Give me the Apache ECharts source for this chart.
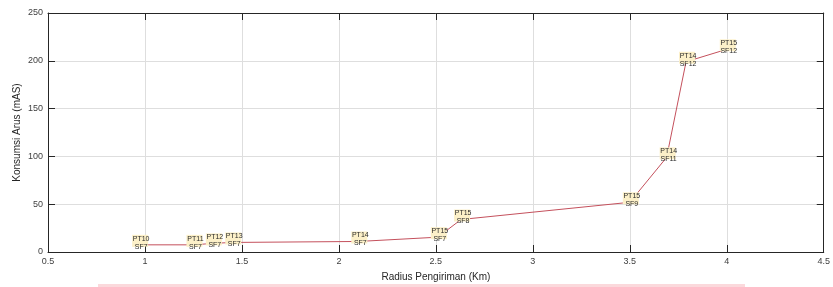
<!DOCTYPE html>
<html>
<head>
<meta charset="utf-8">
<script src="https://cdn.jsdelivr.net/npm/echarts@6/dist/echarts.min.js"></script>
<style>
  html, body { margin: 0; padding: 0; background: #fff; }
  #chart { width: 833px; height: 287px; }
</style>
</head>
<body>
<div id="chart"></div>
<script>
// radius (km) and current consumption (mAS)
const radius = [0.97, 1.25, 1.35, 1.45, 2.1, 2.51, 2.63, 3.5, 3.69, 3.79, 4.0];
const arus = [7.5, 7.5, 9, 10, 11, 15.5, 34, 52, 99, 199, 212];
const ptLabels = ['PT10', 'PT11', 'PT12', 'PT13', 'PT14', 'PT15', 'PT15', 'PT15', 'PT14', 'PT14', 'PT15'];
const sfLabels = ['SF7', 'SF7', 'SF7', 'SF7', 'SF7', 'SF7', 'SF8', 'SF9', 'SF11', 'SF12', 'SF12'];

const font = 'Liberation Sans';
const axisColor = '#262626';

const points = radius.map((r, i) => ({
  value: [r, arus[i]],
  pt: ptLabels[i],
  sf: sfLabels[i]
}));

const chart = echarts.init(document.getElementById('chart'));
chart.setOption({
  animation: false,
  grid: { left: 48, right: 5, top: 13, bottom: 35 },
  xAxis: [{
    type: 'value', min: 0.5, max: 4.5, interval: 0.5,
    name: 'Radius Pengiriman (Km)', nameLocation: 'middle', nameGap: 20,
    nameTextStyle: { fontFamily: font, fontSize: 10, color: '#262626' },
    axisLine: { onZero: false, lineStyle: { color: axisColor, width: 1 } },
    axisTick: { inside: true, length: 7, lineStyle: { color: axisColor } },
    axisLabel: { fontFamily: font, fontSize: 9, color: '#404040', margin: 5 },
    splitLine: { show: true, lineStyle: { color: '#dedede', width: 1 } }
  }, {
    type: 'value', min: 0.5, max: 4.5, interval: 0.5, position: 'top',
    axisLine: { onZero: false, lineStyle: { color: axisColor, width: 1 } },
    axisTick: { inside: true, length: 7, lineStyle: { color: axisColor } },
    axisLabel: { show: false },
    splitLine: { show: false }
  }],
  yAxis: [{
    type: 'value', min: 0, max: 250, interval: 50,
    name: 'Konsumsi Arus (mAS)', nameLocation: 'middle', nameGap: 26, nameRotate: 90,
    nameMoveOverlap: false,
    nameTextStyle: { fontFamily: font, fontSize: 10, color: '#262626' },
    axisLine: { show: true, onZero: false, lineStyle: { color: axisColor, width: 1 } },
    axisTick: { show: true, inside: true, length: 7, lineStyle: { color: axisColor } },
    axisLabel: { fontFamily: font, fontSize: 9, color: '#404040', margin: 5 },
    splitLine: { show: true, lineStyle: { color: '#dedede', width: 1 } }
  }, {
    type: 'value', min: 0, max: 250, interval: 50, position: 'right',
    axisLine: { show: true, onZero: false, lineStyle: { color: axisColor, width: 1 } },
    axisTick: { show: true, inside: true, length: 7, lineStyle: { color: axisColor } },
    axisLabel: { show: false },
    splitLine: { show: false }
  }],
  series: [{
    type: 'line',
    data: points,
    lineStyle: { color: '#c4505c', width: 1 },
    symbol: 'rect',
    symbolSize: [16, 12],
    symbolOffset: [1, -4],
    itemStyle: { color: '#fcf0c8' },
    label: {
      show: true,
      position: 'inside',
      offset: [1, 2],
      fontFamily: font,
      fontSize: 7,
      lineHeight: 8,
      color: '#2a2a2a',
      formatter: p => p.data.pt + '\n' + p.data.sf
    },
    z: 3
  }],
  graphic: [{
    type: 'rect',
    shape: { x: 98, y: 284, width: 647, height: 4 },
    style: { fill: '#fbd9dc' },
    silent: true
  }]
});
</script>
</body>
</html>
